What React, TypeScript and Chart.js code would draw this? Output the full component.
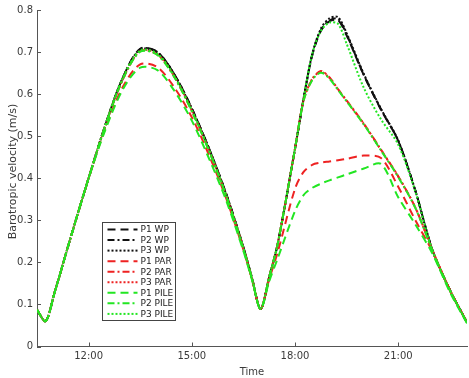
import React, { useEffect, useRef } from 'react';
import { Chart, registerables } from 'chart.js';

Chart.register(...registerables);

// ---- data ----
const timeHours = [10.5, 10.75, 11, 11.5, 12, 12.5, 13, 13.5, 14, 14.5, 15, 15.5, 16, 16.5, 16.75, 17, 17.25,
  17.5, 18, 18.25, 18.5, 18.75, 19, 19.25, 19.5, 20, 20.5, 21, 21.5, 22, 22.5, 23];

const xTickHours = [12, 15, 18, 21];
const xTickLabels = ['12:00', '15:00', '18:00', '21:00'];
const yTickValues = [0, 0.1, 0.2, 0.3, 0.4, 0.5, 0.6, 0.7, 0.8];
const yTickLabels = ['0', '0.1', '0.2', '0.3', '0.4', '0.5', '0.6', '0.7', '0.8'];
const xTitle = 'Time';
const yTitle = 'Barotropic velocity (m/s)';

const seriesNames = ['P1 WP', 'P2 WP', 'P3 WP', 'P1 PAR', 'P2 PAR', 'P3 PAR', 'P1 PILE', 'P2 PILE', 'P3 PILE'];

const p1WP = [0.087, 0.060, 0.125, 0.265, 0.400, 0.530, 0.640, 0.708, 0.700, 0.646, 0.566, 0.471, 0.363, 0.236, 0.163, 0.089, 0.165,
  0.245, 0.470, 0.588, 0.692, 0.750, 0.773, 0.776, 0.740, 0.645, 0.563, 0.489, 0.370, 0.228, 0.135, 0.057];
const p2WP = [0.087, 0.060, 0.125, 0.265, 0.400, 0.530, 0.640, 0.707, 0.700, 0.646, 0.566, 0.471, 0.363, 0.236, 0.163, 0.089, 0.165,
  0.245, 0.470, 0.589, 0.693, 0.752, 0.775, 0.779, 0.742, 0.646, 0.564, 0.489, 0.370, 0.228, 0.135, 0.057];
const p3WP = [0.087, 0.060, 0.125, 0.265, 0.400, 0.530, 0.640, 0.706, 0.699, 0.645, 0.565, 0.470, 0.362, 0.235, 0.162, 0.089, 0.165,
  0.245, 0.470, 0.590, 0.695, 0.755, 0.780, 0.783, 0.745, 0.648, 0.565, 0.490, 0.370, 0.228, 0.135, 0.057];

const p1PAR = [0.087, 0.060, 0.125, 0.265, 0.400, 0.522, 0.618, 0.671, 0.664, 0.615, 0.545, 0.455, 0.352, 0.230, 0.160, 0.089, 0.160,
  0.225, 0.375, 0.415, 0.432, 0.437, 0.440, 0.443, 0.446, 0.454, 0.448, 0.380, 0.300, 0.225, 0.133, 0.057];
const p2PAR = [0.087, 0.060, 0.125, 0.265, 0.400, 0.528, 0.636, 0.702, 0.694, 0.640, 0.560, 0.466, 0.358, 0.233, 0.161, 0.089, 0.165,
  0.245, 0.470, 0.585, 0.635, 0.655, 0.640, 0.612, 0.585, 0.530, 0.468, 0.405, 0.330, 0.228, 0.135, 0.057];
const p3PAR = [0.087, 0.060, 0.125, 0.265, 0.400, 0.528, 0.636, 0.703, 0.695, 0.641, 0.561, 0.467, 0.359, 0.234, 0.161, 0.089, 0.165,
  0.245, 0.470, 0.586, 0.636, 0.653, 0.639, 0.611, 0.584, 0.529, 0.467, 0.404, 0.330, 0.228, 0.135, 0.057];

const p1PILE = [0.087, 0.060, 0.125, 0.265, 0.400, 0.518, 0.612, 0.663, 0.657, 0.607, 0.537, 0.447, 0.347, 0.227, 0.158, 0.089, 0.155,
  0.210, 0.322, 0.360, 0.377, 0.387, 0.395, 0.402, 0.409, 0.423, 0.434, 0.355, 0.290, 0.220, 0.130, 0.055];
const p2PILE = [0.087, 0.060, 0.125, 0.265, 0.400, 0.528, 0.636, 0.701, 0.693, 0.639, 0.559, 0.465, 0.357, 0.232, 0.161, 0.089, 0.165,
  0.245, 0.470, 0.584, 0.633, 0.651, 0.637, 0.610, 0.583, 0.528, 0.466, 0.403, 0.329, 0.227, 0.134, 0.056];
const p3PILE = [0.087, 0.060, 0.125, 0.265, 0.400, 0.530, 0.640, 0.704, 0.696, 0.642, 0.562, 0.468, 0.360, 0.234, 0.162, 0.089, 0.165,
  0.245, 0.470, 0.590, 0.695, 0.750, 0.770, 0.767, 0.720, 0.615, 0.540, 0.480, 0.368, 0.227, 0.134, 0.057];

const seriesValues = [p1WP, p2WP, p3WP, p1PAR, p2PAR, p3PAR, p1PILE, p2PILE, p3PILE];

// ---- styles ----
const BLACK = '#111111';
const RED = '#ee2222';
const GREEN = '#22e622';
const groupColors = [BLACK, RED, GREEN];
const dashes = [[8, 5], [7, 3, 2, 3], [2, 2]];
const FONT = 'DejaVu Sans';
const TEXT = '#3a3a3a';
const AXIS = '#555555';

const inwardTicks = {
  id: 'inwardTicks',
  afterDraw(chart: any) {
    const { ctx, chartArea, scales } = chart;
    ctx.save();
    ctx.strokeStyle = AXIS;
    ctx.lineWidth = 1;
    yTickValues.forEach((v) => {
      const y = Math.round(scales.y.getPixelForValue(v)) + 0.5;
      ctx.beginPath();
      ctx.moveTo(chartArea.left, y);
      ctx.lineTo(chartArea.left + 4, y);
      ctx.stroke();
    });
    xTickHours.forEach((v) => {
      const x = Math.round(scales.x.getPixelForValue(v)) + 0.5;
      ctx.beginPath();
      ctx.moveTo(x, chartArea.bottom);
      ctx.lineTo(x, chartArea.bottom - 4);
      ctx.stroke();
    });
    // y axis title
    ctx.translate(13, 171.5);
    ctx.rotate(-Math.PI / 2);
    ctx.font = `11px "${FONT}"`;
    ctx.fillStyle = TEXT;
    ctx.textAlign = 'center';
    ctx.textBaseline = 'middle';
    ctx.fillText(yTitle, 0, 0);
    ctx.restore();
  },
};

const legendBox = {
  id: 'legendBox',
  afterDraw(chart: any) {
    const { ctx } = chart;
    const bx = 102.5, by = 222.5, bw = 73, bh = 98;
    ctx.save();
    ctx.fillStyle = '#ffffff';
    ctx.fillRect(bx, by, bw, bh);
    ctx.strokeStyle = '#444444';
    ctx.lineWidth = 1;
    ctx.setLineDash([]);
    ctx.strokeRect(bx, by, bw, bh);
    ctx.font = `9px "${FONT}"`;
    ctx.textBaseline = 'middle';
    ctx.textAlign = 'left';
    seriesNames.forEach((name, i) => {
      const y = by + 7 + i * 10.55;
      ctx.strokeStyle = groupColors[Math.floor(i / 3)];
      ctx.lineWidth = 2;
      ctx.setLineDash(dashes[i % 3]);
      ctx.beginPath();
      ctx.moveTo(bx + 5, y);
      ctx.lineTo(bx + 35, y);
      ctx.stroke();
      ctx.setLineDash([]);
      ctx.fillStyle = '#222222';
      ctx.fillText(name, bx + 38, y + 0.5);
    });
    ctx.restore();
  },
};

export default function App() {
  const ref = useRef<HTMLCanvasElement>(null);

  useEffect(() => {
    if (!ref.current) return;
    const datasets = seriesValues.map((vals, i) => ({
      label: seriesNames[i],
      data: timeHours.map((t, j) => ({ x: t, y: vals[j] })),
      borderColor: groupColors[Math.floor(i / 3)],
      backgroundColor: groupColors[Math.floor(i / 3)],
      borderDash: dashes[i % 3],
      borderWidth: 2,
      pointRadius: 0,
      fill: false,
      tension: 0.3,
      order: 2 - Math.floor(i / 3),
    }));

    const chart = new Chart(ref.current, {
      type: 'line',
      data: { datasets },
      options: {
        animation: false,
        responsive: true,
        maintainAspectRatio: false,
        layout: { padding: { top: 8, right: 2, left: 0, bottom: 0 } },
        plugins: { legend: { display: false }, tooltip: { enabled: false } },
        scales: {
          x: {
            type: 'linear',
            min: 10.5,
            max: 23,
            afterBuildTicks: (s: any) => { s.ticks = xTickHours.map((v) => ({ value: v })); },
            afterFit: (s: any) => { s.height = 31.5; },
            ticks: {
              autoSkip: false,
              maxRotation: 0,
              padding: 4,
              color: TEXT,
              font: { family: FONT, size: 10 },
              callback: (_v: any, i: number) => xTickLabels[i],
            },
            grid: { display: false, drawTicks: false },
            border: { display: true, color: AXIS, width: 1 },
            title: { display: true, text: xTitle, color: TEXT, font: { family: FONT, size: 10 }, padding: { top: 0, bottom: 0 } },
          },
          y: {
            type: 'linear',
            min: 0,
            max: 0.8,
            afterBuildTicks: (s: any) => { s.ticks = yTickValues.map((v) => ({ value: v })); },
            afterFit: (s: any) => { s.width = 37; },
            ticks: {
              padding: 4,
              color: TEXT,
              font: { family: FONT, size: 10 },
              callback: (_v: any, i: number) => yTickLabels[i],
            },
            grid: { display: false, drawTicks: false },
            border: { display: true, color: AXIS, width: 1 },
            title: { display: false },
          },
        },
      },
      plugins: [inwardTicks, legendBox],
    });
    return () => chart.destroy();
  }, []);

  return (
    <div style={{ position: 'fixed', left: 0, top: 0, width: 469, height: 378, background: '#ffffff' }}>
      <canvas ref={ref} />
    </div>
  );
}
